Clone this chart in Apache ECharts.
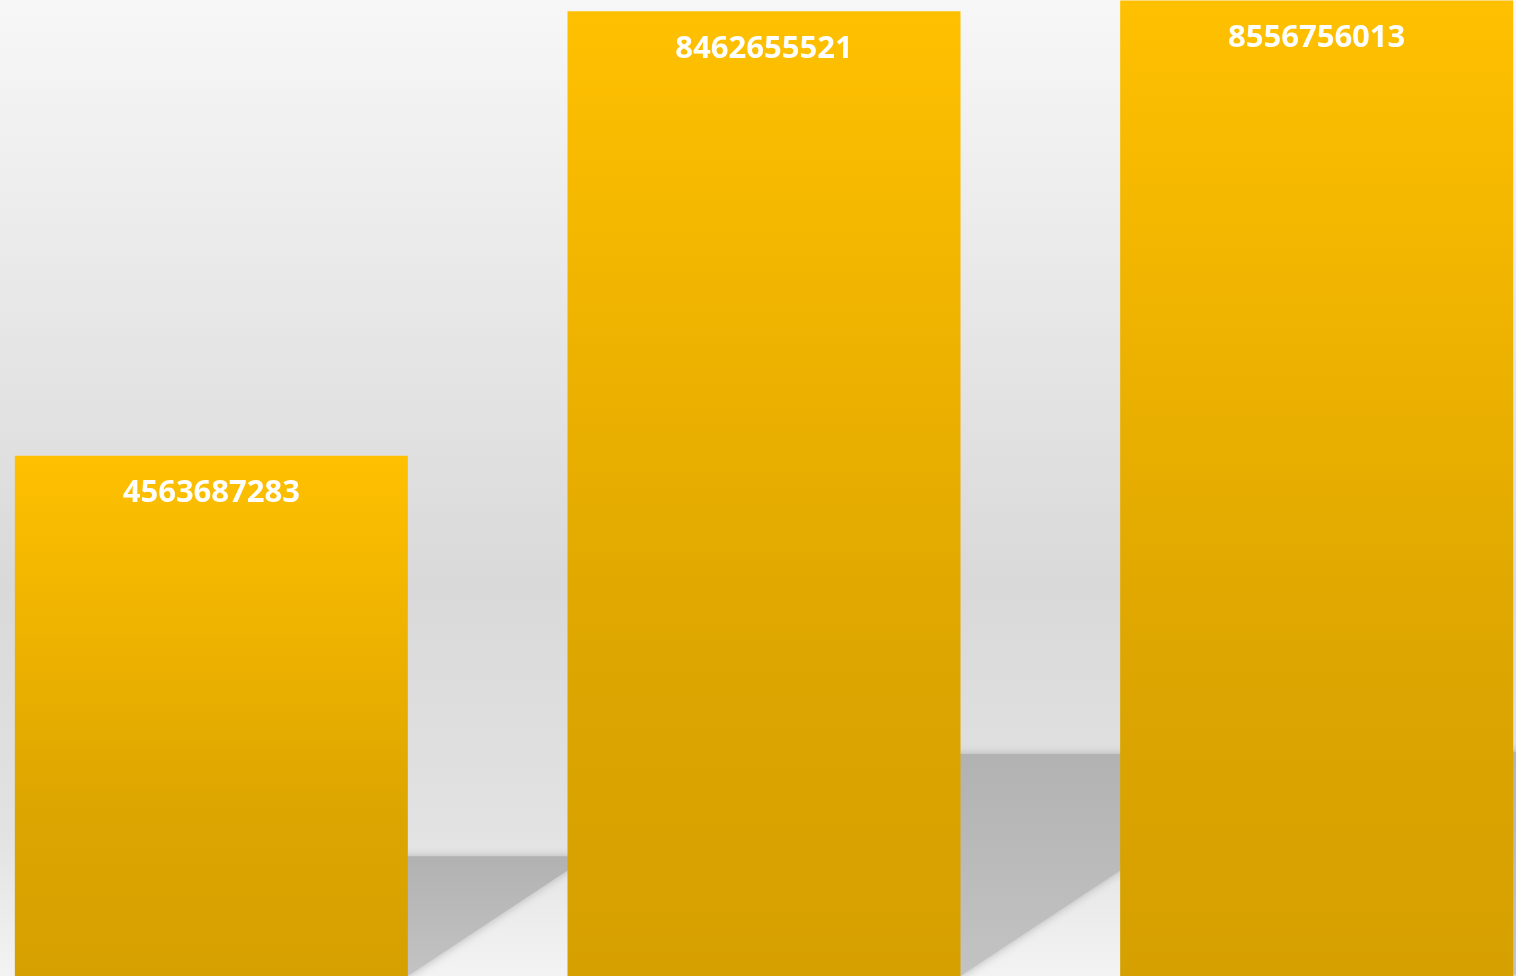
<!DOCTYPE html>
<html>
<head>
<meta charset="utf-8">
<title>bar chart</title>
<script src="https://cdn.jsdelivr.net/npm/echarts@6/dist/echarts.min.js"></script>
<style>
  html, body { margin: 0; padding: 0; }
  #main { width: 1516px; height: 976px; }
</style>
</head>
<body>
<div id="main"></div>
<script>
// 数据
const categories = ['A', 'B', 'C'];
const values = [4563687283, 8462655521, 8556756013];

const chart = echarts.init(document.getElementById('main'));

// 柱子后面的灰色投影
function renderShadow(params, api) {
  const val = api.value(1);
  const base = api.coord([api.value(0), 0]);
  const top = api.coord([api.value(0), val]);
  const half = api.size([1, 0])[0] * 0.711 / 2;
  const right = base[0] + half;
  const h = (base[1] - top[1]) * 0.23;
  const sTop = base[1] - h;
  const slope = 0.66;
  return {
    type: 'polygon',
    shape: {
      //从柱子中间开始, 避免模糊溢出到左边
      points: [[base[0], base[1]], [base[0], sTop], [right + h / slope, sTop], [right, base[1]]]
    },
    style: {
      fill: new echarts.graphic.LinearGradient(0, 0, 0, 1, [
        { offset: 0, color: '#b2b2b2' },
        { offset: 1, color: '#c3c3c3' }
      ]),
      shadowBlur: 10,
      shadowColor: 'rgba(175,175,175,0.9)'
    }
  };
}

const option = {
  backgroundColor: new echarts.graphic.LinearGradient(0, 0, 0, 1, [
    { offset: 0, color: '#f7f7f7' },
    { offset: 0.6, color: '#d9d9d9' },
    { offset: 0.85, color: '#e2e2e2' },
    { offset: 1, color: '#f3f3f3' }
  ]),
  animation: false,
  grid: { left: -65, right: -77, top: 0, bottom: 0, outerBoundsMode: 'none' },
  xAxis: {
    type: 'category',
    data: categories,
    show: false
  },
  yAxis: {
    type: 'value',
    min: 0,
    max: 8562000000,
    show: false,
    splitLine: { show: false }
  },
  series: [
    {
      type: 'custom',
      z: 1,
      renderItem: renderShadow,
      encode: { x: 0, y: 1 },
      data: values.map((v, i) => [i, v])
    },
    {
      type: 'bar',
      z: 2,
      data: values,
      barWidth: 393,
      itemStyle: {
        color: new echarts.graphic.LinearGradient(0, 0, 0, 1, [
          { offset: 0, color: '#ffc000' },
          { offset: 0.7, color: '#dca500' },
          { offset: 1, color: '#d6a000' }
        ])
      },
      label: {
        show: true,
        position: 'insideTop',
        distance: 22,
        color: '#ffffff',
        fontFamily: 'Open Sans',
        fontWeight: 'bold',
        fontSize: 31
      }
    }
  ]
};

chart.setOption(option);
</script>
</body>
</html>
